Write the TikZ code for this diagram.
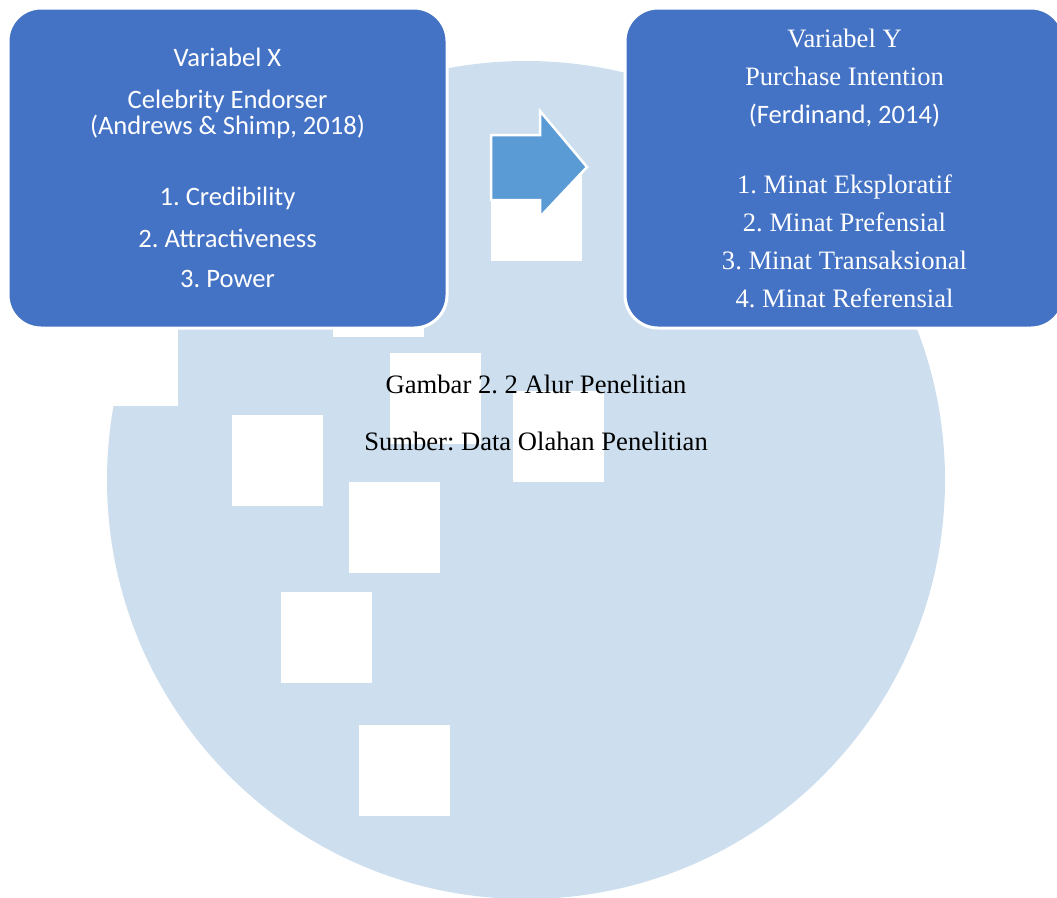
\documentclass[tikz,border=0pt]{standalone}
\usepackage{fontspec}
\setmainfont{Liberation Serif}
\newfontfamily\calibri{Carlito}
\definecolor{boxblue}{HTML}{4472C4}
\definecolor{arrowblue}{HTML}{5B9BD5}
\definecolor{paleblue}{HTML}{CDDFEE}
\frenchspacing
\begin{document}
\begin{tikzpicture}[x=1pt, y=-1pt, var node/.style={rectangle, rounded corners=33pt, fill=boxblue, draw=white, line width=3pt, text=white, align=center, minimum width=439pt, minimum height=320pt, inner sep=0pt}]
        \tikzstyle{every node}=[font=\fontsize{26.6}{38}\selectfont]
        \useasboundingbox (0,0) rectangle (1057,897);

          \fill[paleblue] (526,480) circle (419pt);
          \fill[white] (0,0) rectangle (178,406);
          \foreach \x/\y in {491/170, 390/353, 513/391, 232/415, 349/482, 281/592, 359/725, 333/246}
            \fill[white] (\x,\y) rectangle ++(91,91);

          \node[var node, font=\calibri\fontsize{26.6}{26}\selectfont] (varx) at (227.5,168) {Variabel X\\[16pt]Celebrity Endorser\\(Andrews \& Shimp, 2018)\\[45pt]1. Credibility\\[16pt]2. Attractiveness\\[14pt]3. Power};
          \node[var node] (vary) at (844.5,168) {Variabel Y\\Purchase Intention\\{\calibri (Ferdinand, 2014)}\\[32pt]1. Minat Eksploratif\\2. Minat Prefensial\\3. Minat Transaksional\\4. Minat Referensial};

          \filldraw[fill=arrowblue, draw=white, line width=2.5pt, line join=miter]
            (491,135) -- (540,135) -- (540,111) -- (587,167) -- (540,217) -- (540,200) -- (491,200) -- cycle;

          \node[anchor=base] (judul) at (536,393) {Gambar 2. 2 Alur Penelitian};
          \node[anchor=base] (sumber) at (536,450) {Sumber: Data Olahan Penelitian};

        \end{tikzpicture}
\end{document}
